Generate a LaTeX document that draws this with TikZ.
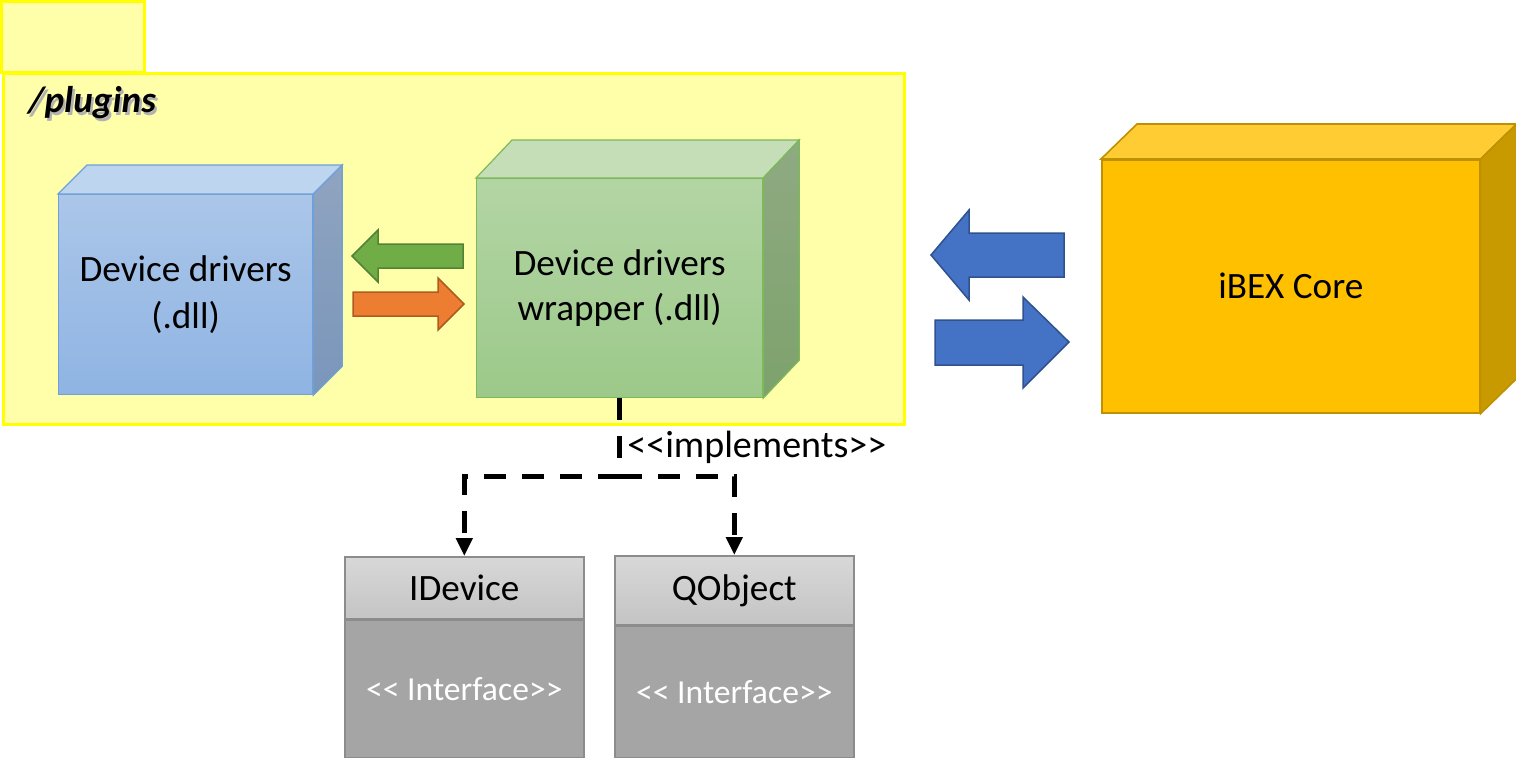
\documentclass[tikz,border=0pt]{standalone}
\usepackage{fontspec}
\setmainfont{Carlito}
\usetikzlibrary{arrows.meta}
\definecolor{pkgfill}{HTML}{FFFFAA}
\definecolor{pkgline}{HTML}{FFFF00}
\definecolor{bfT}{HTML}{ABC6E9}\definecolor{bfB}{HTML}{8FB4E3}
\definecolor{btop}{HTML}{BDD5EE}\definecolor{brT}{HTML}{8FA4C0}\definecolor{brB}{HTML}{7A96BB}
\definecolor{bline}{HTML}{6FA0D8}
\definecolor{gfT}{HTML}{B3D5A4}\definecolor{gfB}{HTML}{9CC98A}
\definecolor{gtop}{HTML}{C5DEB8}\definecolor{grT}{HTML}{8FAA82}\definecolor{grB}{HTML}{7DA26C}
\definecolor{gline}{HTML}{7DB85A}
\definecolor{ofill}{HTML}{FFC000}\definecolor{otop}{HTML}{FFCC33}\definecolor{oright}{HTML}{C99A00}
\definecolor{oline}{HTML}{BF9000}
\definecolor{arrgreen}{HTML}{70AD47}\definecolor{arrgreenline}{HTML}{548235}
\definecolor{arrorange}{HTML}{ED7D31}\definecolor{arrorangeline}{HTML}{AE5A21}
\definecolor{arrblue}{HTML}{4472C4}\definecolor{arrblueline}{HTML}{2F528F}
\definecolor{hdT}{HTML}{D8D8D8}\definecolor{hdB}{HTML}{C4C4C4}
\definecolor{ifbody}{HTML}{A5A5A5}\definecolor{ifline}{HTML}{8C8C8C}
\newcommand\ltlt{<\kern0pt<}
\newcommand\gtgt{>\kern0pt>}
\begin{document}
\begin{tikzpicture}[x=0.5pt,y=-0.5pt,
  cubetext/.style={font=\fontsize{18.6pt}{23.5pt}\selectfont, align=center, anchor=north west, inner sep=0pt, line width=0.6pt},
  blockarrow/.style={line width=0.75pt, line join=miter},
  impl/.style={line width=2.5pt, dash pattern=on 11pt off 8pt},
  ifhead/.style={draw=ifline, line width=0.8pt, top color=hdT, bottom color=hdB, anchor=north west, inner sep=0pt, minimum width=119.5pt, font=\fontsize{18.6pt}{21pt}\selectfont},
  ifbodystyle/.style={draw=ifline, line width=0.8pt, fill=ifbody, anchor=north west, inner sep=0pt, minimum width=119.5pt, text=white, font=\fontsize{16.8pt}{19pt}\selectfont}
]
\useasboundingbox (0,0) rectangle (1516,757);
\fill[white] (0,0) rectangle (1516,757);

% package
\draw[draw=pkgline, fill=pkgfill, line width=1.5pt] (1.5,1.5) rectangle (144,72);
\node[draw=pkgline, fill=pkgfill, line width=1.5pt, anchor=north west, inner sep=0pt,
      minimum width=450.5pt, minimum height=175.5pt] (pkg) at (1.5,72) {};
\node[anchor=west, inner sep=0pt, font=\fontsize{18.6pt}{21pt}\selectfont\bfseries\itshape] (plug) at (28,104)
  {\makebox[0pt][l]{\kern1.2pt\raisebox{-1.2pt}{\textcolor{black!30}{/plugins}}}/plugins};

% device drivers cube
\node[cubetext, draw=bline, top color=bfT, bottom color=bfB, minimum width=127pt, minimum height=100pt] (drv) at (58,194) {Device drivers\\(.dll)};
\filldraw[fill=btop, draw=bline, line width=0.6pt] (drv.north west) -- ++(29,-29) -- ([shift={(29,-29)}]drv.north east) -- (drv.north east) -- cycle;
\filldraw[top color=brT, bottom color=brB, draw=bline, line width=0.6pt] (drv.north east) -- ++(29,-29) -- ([shift={(29,-29)}]drv.south east) -- (drv.south east) -- cycle;

% wrapper cube
\node[cubetext, font=\fontsize{18.6pt}{22.5pt}\selectfont, draw=gline, top color=gfT, bottom color=gfB, minimum width=143pt, minimum height=109.5pt] (wrap) at (476,178) {Device drivers\\wrapper (.dll)};
\filldraw[fill=gtop, draw=gline, line width=0.6pt] (wrap.north west) -- ++(36,-38) -- ([shift={(36,-38)}]wrap.north east) -- (wrap.north east) -- cycle;
\filldraw[top color=grT, bottom color=grB, draw=gline, line width=0.6pt] (wrap.north east) -- ++(36,-38) -- ([shift={(36,-38)}]wrap.south east) -- (wrap.south east) -- cycle;

% iBEX core cube
\node[cubetext, draw=oline, fill=ofill, line width=0.8pt, minimum width=189pt, minimum height=126.5pt] (core) at (1101,159) {iBEX Core};
\filldraw[fill=otop, draw=oline, line width=0.8pt] (core.north west) -- ++(36,-35) -- ([shift={(36,-35)}]core.north east) -- (core.north east) -- cycle;
\filldraw[fill=oright, draw=oline, line width=0.8pt] (core.north east) -- ++(36,-35) -- ([shift={(36,-35)}]core.south east) -- (core.south east) -- cycle;

% green / orange block arrows
\filldraw[blockarrow, fill=arrgreen, draw=arrgreenline] (352,256) -- (378,230) -- (378,244) -- (463,244) -- (463,268) -- (378,268) -- (378,282) -- cycle;
\filldraw[blockarrow, fill=arrorange, draw=arrorangeline] (353,292) -- (438,292) -- (438,278) -- (464,304) -- (438,330) -- (438,316) -- (353,316) -- cycle;

% blue block arrows
\filldraw[blockarrow, fill=arrblue, draw=arrblueline] (931,255) -- (969,210) -- (969,233) -- (1064,233) -- (1064,277) -- (969,277) -- (969,300) -- cycle;
\filldraw[blockarrow, fill=arrblue, draw=arrblueline] (935,320) -- (1023,320) -- (1023,297) -- (1069,342) -- (1023,388) -- (1023,365) -- (935,365) -- cycle;

% interfaces
\node[ifhead, minimum height=31pt] (idev) at (344,556) {IDevice};
\node[ifbodystyle, minimum height=68.5pt] (idevb) at (idev.south west) {\ltlt{} Interface\gtgt};
\node[ifhead, minimum height=34.5pt] (qobj) at (614,555) {QObject};
\node[ifbodystyle, minimum height=65.5pt] (qobjb) at (qobj.south west) {\ltlt{} Interface\gtgt};

% implements connector
\coordinate (jy) at (0,476);
\coordinate (j) at (wrap.south |- jy);
\draw[impl] (wrap.south) -- (j);
\draw[impl, -{Triangle[width=8pt,length=9pt]}] (j) -| (idev.north);
\draw[impl, -{Triangle[width=8pt,length=9pt]}] (j) -| (qobj.north);
\node[anchor=west, inner sep=0pt, font=\fontsize{19pt}{22pt}\selectfont] (impllabel) at (627,447) {\ltlt implements\gtgt};
\end{tikzpicture}
\end{document}
